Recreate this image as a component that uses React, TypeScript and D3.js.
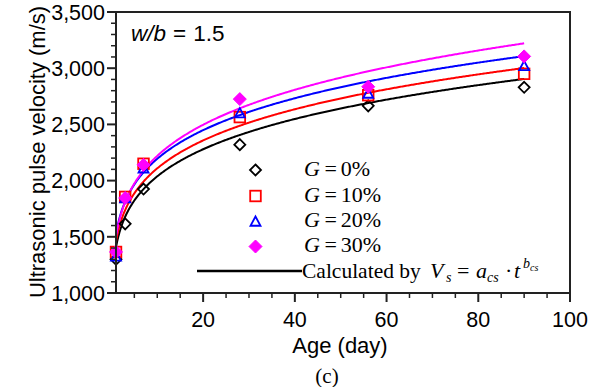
import React from "react";
import * as d3 from "d3";

const ages = [1, 3, 7, 28, 56, 90];
const g0 = [1300, 1615, 1925, 2320, 2665, 2830];
const g10 = [1365, 1855, 2150, 2565, 2760, 2950];
const g20 = [1325, 1845, 2110, 2600, 2775, 3020];
const g30 = [1365, 1845, 2140, 2725, 2835, 3105];
const seriesNames = ["0%", "10%", "20%", "30%"];
const seriesColors = ["#000000", "#ff0000", "#0000ff", "#ff00ff"];
const aCs = [1406, 1457, 1524, 1503];
const bCs = [0.1612, 0.1606, 0.1583, 0.1694];
const xTicks = [20, 40, 60, 80, 100];
const yTicks = [1000, 1500, 2000, 2500, 3000, 3500];

const W = 590, H = 387;
const L = 116, R = 570, T = 12, B = 293;

export default function App() {
  const x = d3.scaleLinear().domain([1, 100]).range([L, R]);
  const y = d3.scaleLinear().domain([1000, 3500]).range([B, T]);
  const series = [g0, g10, g20, g30];
  const tSamples = d3.range(1, 90.01, 0.25);

  const xMinor = d3.range(5, 100, 5).filter((v) => v % 20 !== 0);
  const yMinor = d3.range(1000, 3501, 100).filter((v) => v % 500 !== 0);

  const sans = "'Liberation Sans', Arial, sans-serif";
  const serif = "'Liberation Serif', 'Times New Roman', serif";

  const marker = (k: number, cx: number, cy: number, key?: string) => {
    const c = seriesColors[k];
    if (k === 0) {
      const s = 5.5;
      return <path key={key} d={`M${cx},${cy - s}L${cx + s},${cy}L${cx},${cy + s}L${cx - s},${cy}Z`} fill="none" stroke={c} strokeWidth={1.8} />;
    }
    if (k === 1) {
      const s = 5.3;
      return <rect key={key} x={cx - s} y={cy - s} width={2 * s} height={2 * s} fill="none" stroke={c} strokeWidth={1.8} />;
    }
    if (k === 2) {
      const s = 5;
      return <path key={key} d={`M${cx},${cy - s}L${cx + s},${cy + s * 0.85}L${cx - s},${cy + s * 0.85}Z`} fill="none" stroke={c} strokeWidth={1.8} />;
    }
    const s = 6.5;
    return <path key={key} d={`M${cx},${cy - s}L${cx + s},${cy}L${cx},${cy + s}L${cx - s},${cy}Z`} fill={c} stroke={c} strokeWidth={1} />;
  };

  const legendY = [170, 196, 221.5, 246.5];

  return (
    <svg width={W} height={H} style={{ position: "absolute", left: 0, top: 0, background: "#fff" }}>
      <rect width={W} height={H} fill="#fff" />
      {/* curves */}
      {aCs.map((a, k) => {
        const gen = d3.line<number>().x((t) => x(t)).y((t) => y(a * Math.pow(t, bCs[k])));
        return <path key={"c" + k} d={gen(tSamples) || ""} fill="none" stroke={seriesColors[k]} strokeWidth={2} />;
      })}
      {/* points */}
      {series.map((vals, k) => vals.map((v, i) => marker(k, x(ages[i]), y(v), `p${k}-${i}`)))}
      {/* frame */}
      <rect x={L} y={T} width={R - L} height={B - T} fill="none" stroke="#222" strokeWidth={2} />
      {/* x ticks */}
      {xTicks.map((v) => (
        <g key={"xt" + v}>
          <line x1={x(v)} x2={x(v)} y1={B} y2={B + 9} stroke="#222" strokeWidth={2} />
          <text x={x(v)} y={327} textAnchor="middle" fontFamily={sans} fontSize={21.5} fill="#000">{v}</text>
        </g>
      ))}
      {xMinor.map((v) => (
        <line key={"xm" + v} x1={x(v)} x2={x(v)} y1={B} y2={B + 5} stroke="#222" strokeWidth={1.5} />
      ))}
      {/* y ticks */}
      {yTicks.map((v) => (
        <g key={"yt" + v}>
          <line x1={L - 9} x2={L} y1={y(v)} y2={y(v)} stroke="#222" strokeWidth={2} />
          <text x={105} y={y(v) + 7.7} textAnchor="end" fontFamily={sans} fontSize={21.5} fill="#000">{d3.format(",")(v)}</text>
        </g>
      ))}
      {yMinor.map((v) => (
        <line key={"ym" + v} x1={L - 5} x2={L} y1={y(v)} y2={y(v)} stroke="#222" strokeWidth={1.5} />
      ))}
      {/* axis labels */}
      <text transform="translate(45,152) rotate(-90)" textAnchor="middle" fontFamily={sans} fontSize={22} fill="#000">Ultrasonic pulse velocity (m/s)</text>
      <text x={340} y={353} textAnchor="middle" fontFamily={sans} fontSize={22} fill="#000">Age (day)</text>
      <text x={327} y={383} textAnchor="middle" fontFamily={serif} fontSize={21} fill="#000">(c)</text>
      {/* annotation */}
      <text x={131} y={40.5} fontFamily={sans} fontSize={22.5} fill="#000">
        <tspan fontStyle="italic">w/b</tspan>
        <tspan dx={7}>=</tspan>
        <tspan dx={7}>1.5</tspan>
      </text>
      {/* legend */}
      {seriesNames.map((n, k) => (
        <g key={"lg" + k}>
          {marker(k, 255.5, legendY[k])}
          <text x={304} y={legendY[k] + 5.5} fontFamily={serif} fontSize={22} fill="#000">
            <tspan fontStyle="italic">G</tspan>
            <tspan dx={4.5}>=</tspan>
            <tspan dx={4}>{n}</tspan>
          </text>
        </g>
      ))}
      <line x1={197} x2={302} y1={271} y2={271} stroke="#000" strokeWidth={2.5} />
      <text x={302} y={278} fontFamily={serif} fontSize={21.5} fill="#000">Calculated by</text>
      <text y={278} fontFamily={serif} fontSize={22} fill="#000">
        <tspan x={430} fontStyle="italic">V</tspan>
        <tspan x={446} fontStyle="italic" fontSize={14} dy={4}>s</tspan>
        <tspan x={457} dy={-4}>=</tspan>
        <tspan x={476} fontStyle="italic">a</tspan>
        <tspan x={487} fontStyle="italic" fontSize={14} dy={4}>cs</tspan>
        <tspan x={505} dy={-4}>·</tspan>
        <tspan x={514} fontStyle="italic">t</tspan>
        <tspan x={523} fontStyle="italic" fontSize={14} dy={-10}>b</tspan>
        <tspan x={530} fontStyle="italic" fontSize={10} dy={3}>cs</tspan>
      </text>
    </svg>
  );
}
